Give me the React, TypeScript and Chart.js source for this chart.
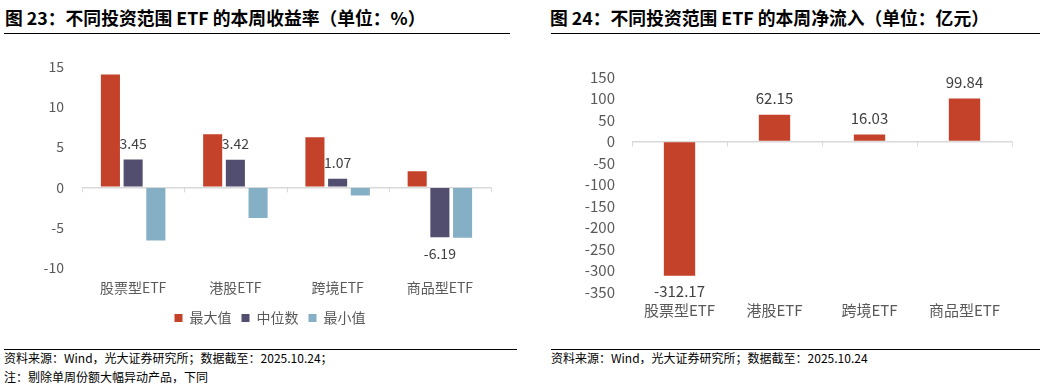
import React, { useEffect, useRef } from "react";
import { Chart, registerables } from "chart.js";

Chart.register(...registerables);

const FONT = '"Noto Sans CJK SC", "Noto Sans", sans-serif';

// ---- Chart 1: weekly return by investment scope (%) ----
const returnCategories = ["股票型ETF", "港股ETF", "跨境ETF", "商品型ETF"];
const returnSeriesNames = ["最大值", "中位数", "最小值"];
const returnMax = [14.0, 6.6, 6.2, 2.0];
const returnMedian = [3.45, 3.42, 1.07, -6.19];
const returnMin = [-6.6, -3.8, -1.0, -6.25];
const returnAxisMin = -10;
const returnAxisMax = 15;
const returnAxisStep = 5;

// ---- Chart 2: weekly net inflow (100m CNY) ----
const flowCategories = ["股票型ETF", "港股ETF", "跨境ETF", "商品型ETF"];
const flowValues = [-312.17, 62.15, 16.03, 99.84];
const flowAxisMin = -350;
const flowAxisMax = 150;
const flowAxisStep = 50;

const RED = "#C4422A";
const PURPLE = "#524E6F";
const BLUE = "#85AFC4";
const TICK_COLOR = "#595959";
const AXIS_COLOR = "#D9D9D9";

const valueLabels = {
  id: "valueLabels",
  afterDatasetsDraw(chart: any, _args: any, opts: any) {
    const { ctx } = chart;
    const idx = opts.datasetIndex;
    const meta = chart.getDatasetMeta(idx);
    const ds = chart.data.datasets[idx];
    ctx.save();
    ctx.font = `${opts.size}px ${FONT}`;
    ctx.fillStyle = "#404040";
    ctx.textAlign = "center";
    ctx.textBaseline = "middle";
    meta.data.forEach((bar: any, i: number) => {
      const v = ds.data[i] as number;
      const { x, y } = bar.getProps(["x", "y"], true);
      const ty = v >= 0 ? y - opts.offset : y + opts.offset;
      ctx.fillText(v.toFixed(2), x, ty);
    });
    ctx.restore();
  },
};

const catTicks = {
  id: "catTicks",
  beforeDatasetsDraw(chart: any) {
    const { ctx, chartArea, scales } = chart;
    const y0 = scales.y.getPixelForValue(0);
    const n = chart.data.labels.length;
    const w = (chartArea.right - chartArea.left) / n;
    ctx.save();
    ctx.strokeStyle = AXIS_COLOR;
    ctx.lineWidth = 1;
    for (let i = 0; i <= n; i++) {
      const x = Math.round(chartArea.left + i * w) + 0.5;
      ctx.beginPath();
      ctx.moveTo(x, y0);
      ctx.lineTo(x, y0 + 5);
      ctx.stroke();
    }
    ctx.restore();
  },
};

// nudges the legend block horizontally (layout only)
const legendShift = {
  id: "legendShift",
  afterLayout(chart: any, _args: any, opts: any) {
    if (chart.legend && opts && opts.dx) {
      chart.legend.left += opts.dx;
      chart.legend.right += opts.dx;
    }
  },
};

function ReturnChart() {
  const ref = useRef<HTMLCanvasElement>(null);
  useEffect(() => {
    const chart = new Chart(ref.current!, {
      type: "bar",
      data: {
        labels: returnCategories,
        datasets: [
          { label: returnSeriesNames[0], data: returnMax, backgroundColor: RED },
          { label: returnSeriesNames[1], data: returnMedian, backgroundColor: PURPLE },
          { label: returnSeriesNames[2], data: returnMin, backgroundColor: BLUE },
        ],
      },
      plugins: [valueLabels, catTicks, legendShift],
      options: {
        responsive: false,
        animation: false,
        layout: { padding: { left: 30, right: 39, top: 23, bottom: 5 } },
        datasets: { bar: { categoryPercentage: 0.666, barPercentage: 0.84 } },
        scales: {
          x: {
            grid: { display: false, drawTicks: false },
            border: { display: false },
            ticks: { color: TICK_COLOR, font: { family: FONT, size: 14 }, padding: 11, maxRotation: 0 },
            afterFit(scale: any) {
              scale.height = 33;
            },
          },
          y: {
            min: returnAxisMin,
            max: returnAxisMax,
            border: { display: false },
            grid: {
              drawTicks: false,
              lineWidth: 1.5,
              color: (c: any) => (c.tick && c.tick.value === 0 ? AXIS_COLOR : "rgba(0,0,0,0)"),
            },
            ticks: { stepSize: returnAxisStep, color: TICK_COLOR, font: { family: FONT, size: 14 }, padding: 18 },
            afterFit(scale: any) {
              scale.width = 52;
            },
          },
        },
        plugins: {
          legend: {
            position: "bottom",
            labels: {
              boxWidth: 8,
              boxHeight: 8,
              padding: 10,
              color: TICK_COLOR,
              font: { family: FONT, size: 14 },
            },
          },
          tooltip: { enabled: false },
          valueLabels: { datasetIndex: 1, size: 14, offset: 16 },
          legendShift: { dx: 9.5 },
        } as any,
      },
    });
    return () => chart.destroy();
  }, []);
  return <canvas ref={ref} width={530} height={300} style={{ width: 530, height: 300 }} />;
}

function FlowChart() {
  const ref = useRef<HTMLCanvasElement>(null);
  useEffect(() => {
    const chart = new Chart(ref.current!, {
      type: "bar",
      data: {
        labels: flowCategories,
        datasets: [{ label: "本周净流入", data: flowValues, backgroundColor: RED }],
      },
      plugins: [valueLabels, catTicks],
      options: {
        responsive: false,
        animation: false,
        layout: { padding: { left: 50, right: 52, top: 37, bottom: 18 } },
        datasets: { bar: { categoryPercentage: 0.33, barPercentage: 1 } },
        scales: {
          x: {
            grid: { display: false, drawTicks: false },
            border: { display: false },
            ticks: { color: TICK_COLOR, font: { family: FONT, size: 15 }, padding: 9, maxRotation: 0 },
            afterFit(scale: any) {
              scale.height = 30;
            },
          },
          y: {
            min: flowAxisMin,
            max: flowAxisMax,
            border: { display: false },
            grid: {
              drawTicks: false,
              lineWidth: 1.5,
              color: (c: any) => (c.tick && c.tick.value === 0 ? AXIS_COLOR : "rgba(0,0,0,0)"),
            },
            ticks: { stepSize: flowAxisStep, color: TICK_COLOR, font: { family: FONT, size: 15 }, padding: 17 },
            afterFit(scale: any) {
              scale.width = 52;
            },
          },
        },
        plugins: {
          legend: { display: false },
          tooltip: { enabled: false },
          valueLabels: { datasetIndex: 0, size: 15, offset: 16 },
        } as any,
      },
    });
    return () => chart.destroy();
  }, []);
  return <canvas ref={ref} width={534} height={300} style={{ width: 534, height: 300 }} />;
}

const abs = (s: React.CSSProperties): React.CSSProperties => ({ position: "absolute", ...s });

export default function App() {
  const titleStyle: React.CSSProperties = {
    fontFamily: FONT,
    fontWeight: 700,
    fontSize: 17.8,
    lineHeight: "24px",
    color: "#000",
    whiteSpace: "nowrap",
  };
  const noteStyle: React.CSSProperties = {
    fontFamily: FONT,
    fontSize: 12,
    lineHeight: "18px",
    color: "#000",
    whiteSpace: "nowrap",
  };
  return (
    <div style={abs({ left: 0, top: 0, width: 1064, height: 384, background: "#fff", overflow: "hidden" })}>
      <div style={abs({ left: 5, top: 5, ...titleStyle })}>图 23：不同投资范围 ETF 的本周收益率（单位：%）</div>
      <div style={abs({ left: 4, top: 33, width: 506, height: 1, background: "#000" })} />
      <div style={abs({ left: 550, top: 5, ...titleStyle })}>图 24：不同投资范围 ETF 的本周净流入（单位：亿元）</div>
      <div style={abs({ left: 551, top: 33, width: 489, height: 1, background: "#000" })} />

      <div style={abs({ left: 0, top: 40 })}>
        <ReturnChart />
      </div>
      <div style={abs({ left: 530, top: 40 })}>
        <FlowChart />
      </div>

      <div style={abs({ left: 4, top: 349, width: 513, height: 1, background: "#000" })} />
      <div style={abs({ left: 4, top: 349, ...noteStyle })}>资料来源：Wind，光大证券研究所；数据截至：2025.10.24；</div>
      <div style={abs({ left: 4, top: 368, ...noteStyle })}>注：剔除单周份额大幅异动产品，下同</div>
      <div style={abs({ left: 551, top: 349, width: 489, height: 1, background: "#000" })} />
      <div style={abs({ left: 551, top: 349, ...noteStyle })}>资料来源：Wind，光大证券研究所；数据截至：2025.10.24</div>
    </div>
  );
}
